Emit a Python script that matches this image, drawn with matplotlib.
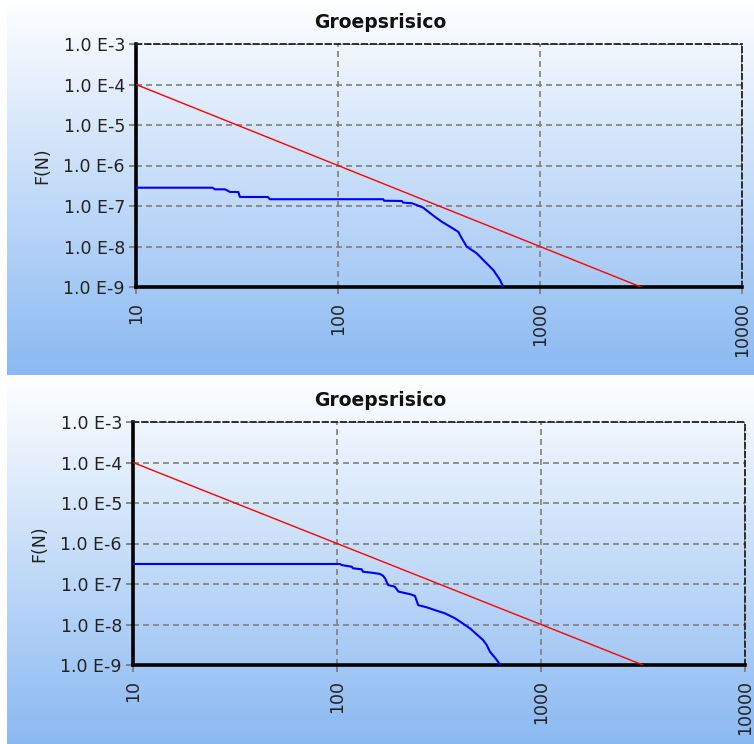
import numpy as np
import matplotlib
matplotlib.use("Agg")
import matplotlib.pyplot as plt

# --- data -------------------------------------------------------------
title_text = "Groepsrisico"
y_label = "F(N)"

x_ticks = [10, 100, 1000, 10000]
x_tick_labels = ["10", "100", "1000", "10000"]
y_ticks = [1e-9, 1e-8, 1e-7, 1e-6, 1e-5, 1e-4, 1e-3]
y_tick_labels = ["1.0 E-9", "1.0 E-8", "1.0 E-7", "1.0 E-6",
                 "1.0 E-5", "1.0 E-4", "1.0 E-3"]

# orientatiewaarde (rode lijn)
norm_n = [10, 3162]
norm_f = [1e-4, 1e-9]

# FN-curve bovenste paneel
top_n = [10, 23.9, 24.6, 27.6, 29.2, 32.1, 32.7, 44.9, 46, 167.5, 169,
         207, 210, 232, 245, 264, 280, 302, 326, 358, 394, 410, 434,
         486, 534, 588, 634, 658]
top_f = [2.83e-7, 2.83e-7, 2.58e-7, 2.58e-7, 2.22e-7, 2.22e-7, 1.67e-7,
         1.67e-7, 1.47e-7, 1.47e-7, 1.35e-7, 1.33e-7, 1.21e-7, 1.17e-7,
         1.06e-7, 9.1e-8, 7.2e-8, 5.4e-8, 4.1e-8, 3.1e-8, 2.3e-8, 1.59e-8,
         9.9e-9, 6.8e-9, 4.2e-9, 2.6e-9, 1.49e-9, 1.0e-9]

# FN-curve onderste paneel
bot_n = [10, 103.5, 105.4, 118, 119.8, 132, 134, 148, 162.5, 168, 172,
         178, 192, 200, 228, 241, 250, 275, 308, 338, 379, 408, 449, 484,
         521, 542, 562, 595, 618, 630]
bot_f = [3.12e-7, 3.12e-7, 2.94e-7, 2.67e-7, 2.44e-7, 2.31e-7, 2.01e-7,
         1.90e-7, 1.77e-7, 1.60e-7, 1.38e-7, 9.4e-8, 8.6e-8, 6.5e-8,
         5.6e-8, 5.1e-8, 3.0e-8, 2.66e-8, 2.19e-8, 1.89e-8, 1.42e-8,
         1.11e-8, 8.0e-9, 5.7e-9, 4.1e-9, 3.1e-9, 2.13e-9, 1.51e-9,
         1.17e-9, 1.0e-9]

W, H = 754, 744


def add_background(fig, y_top, y_bot):
    # verloop van wit naar lichtblauw achter het paneel
    top = np.array([255, 255, 255]) / 255
    bot = np.array([138, 185, 242]) / 255
    t = np.linspace(0, 1, 256)[:, None]
    grad = (top * (1 - t) + bot * t)[:, None, :]
    bg = fig.add_axes([7 / W, 1 - y_bot / H, 1 - 7 / W, (y_bot - y_top) / H])
    bg.imshow(grad, aspect="auto", extent=[0, 1, 0, 1], interpolation="bilinear")
    bg.axis("off")
    bg.set_zorder(-1)


def draw_panel(fig, rect, n, f, title_y):
    ax = fig.add_axes(rect)
    ax.set_facecolor("none")
    ax.set_xscale("log")
    ax.set_yscale("log")
    ax.set_xlim(10, 10000)
    ax.set_ylim(1e-9, 1e-3)

    ax.plot(norm_n, norm_f, color="#ff0000", lw=1.0, zorder=3)
    ax.plot(n, f, color="#0000ff", lw=1.5, zorder=4)

    ax.set_xticks(x_ticks)
    ax.set_xticklabels(x_tick_labels, rotation=90, fontsize=12.5, color="#222222")
    ax.set_yticks(y_ticks)
    ax.set_yticklabels(y_tick_labels, fontsize=12.5, color="#222222")
    ax.minorticks_off()
    ax.tick_params(axis="both", length=5, width=1.2, color="#777777", pad=3)
    ax.tick_params(axis="x", pad=6)

    ax.grid(True, color="#808080", lw=1.2, linestyle=(0, (3.6, 2.4)))
    ax.set_axisbelow(True)

    for side in ["left", "bottom"]:
        ax.spines[side].set_linewidth(2.6)
        ax.spines[side].set_color("black")
    for side in ["top", "right"]:
        ax.spines[side].set_linewidth(1.3)
        ax.spines[side].set_color("#222222")
        ax.spines[side].set_linestyle((0, (3, 2)))

    ax.set_ylabel(y_label, fontsize=12.5, color="#222222", labelpad=9)
    fig.text(380 / W, 1 - title_y / H, title_text, ha="center", va="center",
             fontsize=13.5, fontweight="bold", color="#111111")
    return ax


fig = plt.figure(figsize=(W / 100, H / 100), dpi=100)
fig.patch.set_facecolor("white")

add_background(fig, 0, 375)
add_background(fig, 377, 744)

draw_panel(fig, [136 / W, 1 - 287 / H, (742 - 136) / W, (287 - 44) / H],
           top_n, top_f, 23)
draw_panel(fig, [133 / W, 1 - 665 / H, (745 - 133) / W, (665 - 422) / H],
           bot_n, bot_f, 400)

fig.savefig("out.png", dpi=100)
